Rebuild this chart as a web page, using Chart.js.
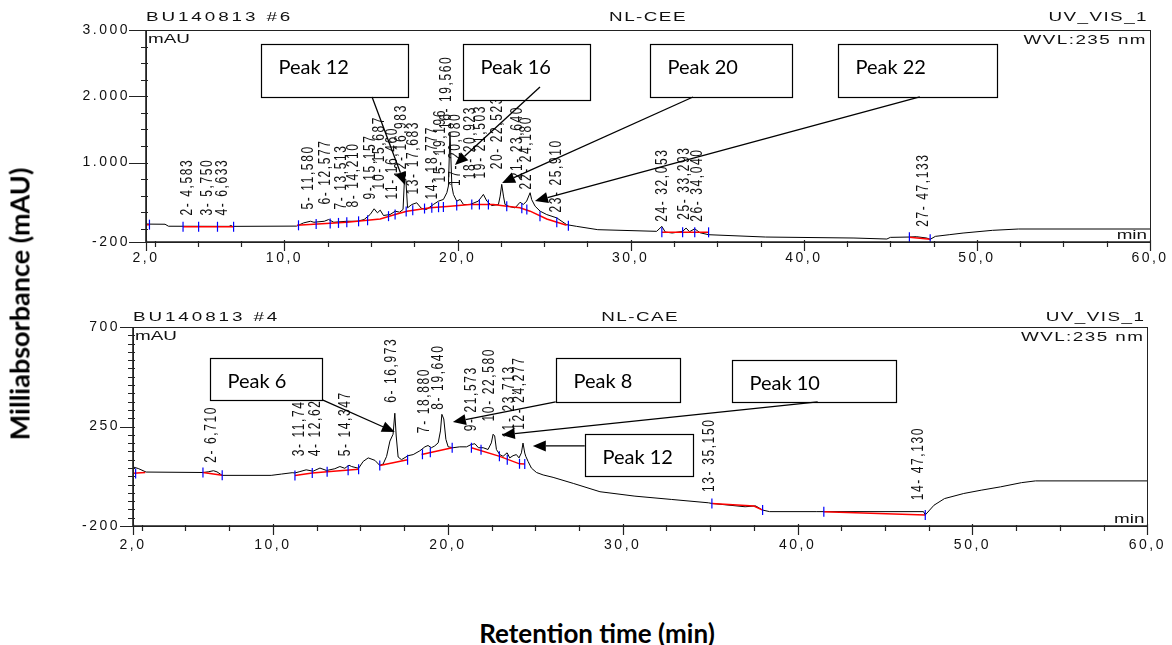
<!DOCTYPE html>
<html>
<head>
<meta charset="utf-8">
<title>UV_VIS_1 chromatograms NL-CEE / NL-CAE</title>
<script src="https://cdn.jsdelivr.net/npm/chart.js@4.4.1/dist/chart.umd.min.js"></script>
<style>
  body { margin: 0; background: #fff; }
  #wrap { position: relative; width: 1172px; height: 645px; overflow: hidden; }
  #wrap canvas { position: absolute; left: 0; }
  #topChart { top: 0; }
  #bottomChart { top: 290px; }
  .axis-title { position: absolute; font-family: Lato, 'Open Sans', sans-serif; font-weight: bold; color: #000; white-space: nowrap; }
  #yTitle { left: 19px; top: 304px; font-size: 27px; transform: translate(-50%, -50%) rotate(-90deg); }
  #xTitle { left: 597px; top: 633px; font-size: 26px; transform: translate(-50%, -50%); }
</style>
</head>
<body>
<div id="wrap">
  <canvas id="topChart" width="1172" height="290"></canvas>
  <canvas id="bottomChart" width="1172" height="280"></canvas>
  <div class="axis-title" id="yTitle">Milliabsorbance (mAU)</div>
  <div class="axis-title" id="xTitle">Retention time (min)</div>
</div>
<script>
// retention time axis (min), same for both runs
var xTickVals = [2, 10, 20, 30, 40, 50, 60];
var xTickText = ['2,0', '10,0', '20,0', '30,0', '40,0', '50,0', '60,0'];
var xMinor = [2.5, 5, 7.5, 12.5, 15, 17.5, 22.5, 25, 27.5, 32.5, 35, 37.5, 42.5, 45, 47.5, 52.5, 55, 57.5];

// ---- BU140813 #6  NL-CEE ----
var topYTickVals = [-200, 1000, 2000, 3000];
var topYTickText = ['-200', '1.000', '2.000', '3.000'];
var topYMinor = [0, 250, 500, 750, 1250, 1500, 1750, 2250, 2500, 2750];

var topTime = [
  2.0, 2.2, 3.1, 3.3, 6.8, 6.9, 7.0, 10.7, 11.1, 11.5,
  11.7, 12.3, 12.55, 12.85, 13.6, 14.2, 14.6, 14.95, 15.18, 15.37,
  15.53, 15.72, 16.1, 16.4, 16.65, 16.85, 16.93, 17.01, 17.11, 17.36,
  17.64, 17.9, 18.2, 18.6, 18.9, 19.18, 19.38, 19.47, 19.56, 19.67,
  19.76, 19.95, 20.15, 20.34, 20.72, 21.2, 21.49, 21.69, 21.97, 22.36,
  22.46, 22.55, 22.65, 22.74, 22.94, 23.32, 23.61, 23.8, 23.99, 24.19,
  24.28, 24.48, 24.77, 25.15, 25.73, 26.3, 26.88, 28.1, 31.5, 31.8,
  32.0, 32.4, 33.0, 33.2, 33.4, 33.7, 34.0, 34.5, 37.8, 42.9,
  44.8, 45.0, 46.1, 46.5, 47.1, 47.3, 47.6, 48.4, 49.2, 50.9,
  52.4, 60.0
];
var topMAU = [
  73, 70, 68, 38, 36, 50, 36, 40, 88, 113,
  98, 113, 139, 98, 113, 113, 139, 215, 301, 240,
  281, 200, 215, 265, 250, 291, 746, 746, 316, 366,
  392, 310, 290, 366, 417, 442, 544, 645, 1456, 645,
  518, 417, 442, 366, 366, 417, 518, 417, 350, 366,
  493, 670, 493, 366, 340, 315, 400, 366, 417, 544,
  440, 340, 265, 214, 164, 62, 36, -14, -39, 36,
  -50, -64, -40, 10, -45, 0, -60, -90, -125, -140,
  -155, -130, -125, -120, -140, -160, -115, -90, -65, -24,
  -4, -4
];
// integration baselines (null = break)
var topBaseTime = [2.0, 2.2, 2.2, 4.14, 7.06, 7.06, 10.72, 13.6, 15.53, 16.39, 17.07, 18.42, 19.57, 20.72, 22.07, 22.84, 23.6, 24.19, 25.15, 26.3, 26.3, 31.8, 34.5, 34.5, 46.1, 47.3];
var topBaseMAU = [60, 62, null, 30, 30, null, 52, 98, 148, 214, 265, 316, 341, 366, 366, 341, 316, 265, 148, 52, null, -54, -54, null, -130, -160];
// peak start / end marks
var topMarkTime = [2.2, 4.14, 5.04, 6.13, 7.06, 10.81, 11.83, 12.64, 13.12, 13.6, 14.28, 14.8, 16.01, 16.39, 17.03, 17.41, 18.09, 18.51, 18.9, 19.18, 19.95, 20.82, 21.26, 21.78, 22.84, 23.71, 24.0, 24.76, 25.73, 26.4, 31.8, 33.0, 33.7, 34.5, 46.1, 47.3];
var topMarkMAU = [62, 30, 30, 30, 30, 52, 70, 80, 88, 98, 112, 128, 190, 214, 262, 280, 305, 318, 325, 330, 350, 366, 366, 366, 341, 310, 290, 190, 100, 45, -54, -54, -54, -54, -130, -160];
// peak names
var topPeakText = ['2- 4,583', '3- 5,750', '4- 6,633', '5- 11,580', '6- 12,577', '7- 13,513', '8- 14,210', '9- 15,157', '10- 15,687', '11- 16,460', '12- 16,983', '13- 17,683', '14- 18,777', '15- 19,196', '16- 19,560', '17- 20,080', '18- 20,923', '19- 21,503', '20- 22,523', '21- 23,640', '22- 24,180', '23- 25,910', '24- 32,053', '25- 33,293', '26- 34,040', '27- 47,133'];
var topPeakTime = [4.583, 5.75, 6.633, 11.58, 12.577, 13.513, 14.21, 15.157, 15.687, 16.46, 16.983, 17.683, 18.777, 19.196, 19.56, 20.08, 20.923, 21.503, 22.523, 23.64, 24.18, 25.91, 32.053, 33.293, 34.04, 47.133];
var topPeakLabelAt = [199, 199, 199, 290, 366, 290, 320, 442, 594, 442, 774, 518, 442, 700, 1505, 644, 746, 760, 898, 746, 594, 245, 105, 135, 105, 30];

// ---- BU140813 #4  NL-CAE ----
var botYTickVals = [-200, 250, 700];
var botYTickText = ['-200', '250', '700'];

var botTime = [
  2.0, 2.3, 2.75, 6.0, 6.3, 6.6, 6.8, 7.1, 9.9, 10.5,
  11.1, 11.26, 11.54, 11.9, 12.3, 12.69, 13.07, 13.54, 13.83, 14.11,
  14.35, 14.5, 14.9, 15.16, 15.45, 15.83, 16.11, 16.3, 16.5, 16.69,
  16.87, 16.97, 17.05, 17.16, 17.35, 17.73, 18.02, 18.4, 18.69, 18.87,
  19.06, 19.25, 19.45, 19.58, 19.66, 19.77, 19.89, 20.02, 20.3, 20.68,
  21.07, 21.35, 21.55, 21.75, 22.02, 22.3, 22.49, 22.59, 22.68, 22.78,
  22.97, 23.16, 23.39, 23.54, 23.73, 23.92, 24.07, 24.21, 24.3, 24.4,
  24.46, 24.59, 24.78, 25.07, 25.45, 26.02, 27.2, 28.7, 30.7, 32.8,
  34.9, 35.1, 37.0, 37.6, 38.0, 38.4, 41.1, 47.2, 47.3, 47.8,
  48.4, 49.5, 50.5, 51.6, 52.8, 53.6, 60.0
];
var botMAU = [
  67, 60, 44, 42, 45, 50, 45, 29, 29, 35,
  41, 40, 46, 54, 48, 62, 51, 59, 69, 61,
  75, 69, 61, 92, 108, 97, 74, 80, 115, 184,
  215, 310, 207, 112, 100, 118, 123, 140, 158, 164,
  154, 162, 176, 230, 305, 284, 192, 158, 154, 158,
  158, 169, 172, 154, 154, 146, 176, 215, 207, 146,
  123, 115, 131, 108, 118, 123, 108, 131, 175, 130,
  115, 92, 62, 42, 31, 20, -8, -45, -65, -80,
  -95, -98, -113, -109, -128, -135, -135, -135, -150, -106,
  -76, -53, -38, -23, -4, 4, 4
];
var botBaseTime = [2.0, 2.7, 2.7, 6.0, 7.1, 7.1, 11.26, 12.25, 13.1, 14.9, 14.9, 16.11, 17.7, 17.7, 18.5, 20.25, 20.25, 21.35, 22.97, 24.1, 24.4, 24.4, 35.1, 37.5, 38.0, 38.0, 41.5, 47.3];
var botBaseMAU = [38, 42, null, 42, 30, null, 28, 40, 45, 57, null, 74, 100, null, 123, 154, null, 154, 115, 81, 80, null, -98, -110, -128, null, -135, -150];
var botMarkTime = [2.15, 6.0, 7.1, 11.26, 12.25, 13.1, 14.3, 14.9, 16.11, 17.7, 18.55, 19.0, 20.25, 21.35, 21.9, 22.95, 23.4, 24.1, 24.4, 35.1, 38.0, 41.5, 47.3];
var botMarkMAU = [38, 42, 30, 28, 40, 45, 52, 57, 74, 100, 125, 133, 154, 154, 145, 115, 100, 81, 80, -98, -128, -135, -150];
var botPeakText = ['2- 6,710', '3- 11,747', '4- 12,627', '5- 14,347', '6- 16,973', '7- 18,880', '8- 19,640', '9- 21,573', '10- 22,580', '11- 23,713', '12- 24,277', '13- 35,150', '14- 47,130'];
var botPeakTime = [6.71, 11.747, 12.627, 14.347, 16.973, 18.88, 19.64, 21.573, 22.58, 23.713, 24.277, 35.15, 47.13];
var botPeakLabelAt = [86, 115, 115, 115, 357, 220, 326, 228, 273, 199, 235, -46, -84];

// call-out boxes and arrows, placed in axis units
var topNotes = [
  { text: 'Peak 12', t0: 8.64, t1: 17.14, v0: 2790, v1: 1989, from: [15.06, 1989], to: [16.96, 660] },
  { text: 'Peak 16', t0: 20.31, t1: 27.65, v0: 2784, v1: 1943, from: [24.76, 2140], to: [19.85, 962] },
  { text: 'Peak 20', t0: 31.12, t1: 39.32, v0: 2790, v1: 1989, from: [33.6, 1989], to: [22.57, 691] },
  { text: 'Peak 22', t0: 41.98, t1: 51.16, v0: 2790, v1: 1989, from: [46.7, 1989], to: [24.47, 419] }
];
var botNotes = [
  { text: 'Peak 6', t0: 6.43, t1: 12.83, v0: 558, v1: 370, from: [12.83, 370], to: [16.97, 225] },
  { text: 'Peak 8', t0: 26.17, t1: 33.27, v0: 560, v1: 361, from: [26.17, 361], to: [20.29, 270] },
  { text: 'Peak 10', t0: 36.23, t1: 45.6, v0: 553, v1: 361, from: [41.15, 361], to: [23.09, 212] },
  { text: 'Peak 12', t0: 27.83, t1: 34.0, v0: 216, v1: 26, from: [27.83, 162], to: [24.86, 162] }
];

function pts(ts, vs) {
  return ts.map(function(t, i) { return { x: t, y: vs[i] }; });
}

function drawText(ctx, str, x, y, o) {
  ctx.save();
  ctx.translate(x, y);
  if (o.rotate) {
    ctx.rotate(-Math.PI / 2);
    ctx.scale(1, o.stretch || 1);
  } else {
    ctx.scale(o.stretch || 1, 1);
  }
  ctx.font = o.font;
  ctx.letterSpacing = (o.spacing || 0) + 'px';
  ctx.textAlign = o.align || 'left';
  ctx.textBaseline = o.baseline || 'alphabetic';
  ctx.fillStyle = o.color || '#111';
  ctx.fillText(str, 0, 0);
  ctx.restore();
}

function drawArrow(ctx, x1, y1, x2, y2) {
  var ang = Math.atan2(y2 - y1, x2 - x1), L = 13, W = 5.5;
  var bx = x2 - L * Math.cos(ang), by = y2 - L * Math.sin(ang);
  ctx.beginPath();
  ctx.moveTo(x1, y1);
  ctx.lineTo(bx, by);
  ctx.stroke();
  ctx.beginPath();
  ctx.moveTo(x2, y2);
  ctx.lineTo(bx + W * Math.sin(ang), by - W * Math.cos(ang));
  ctx.lineTo(bx - W * Math.sin(ang), by + W * Math.cos(ang));
  ctx.closePath();
  ctx.fill();
}

function chromPlugin(info) {
  return {
    id: 'chrom',
    beforeDraw: function(chart) {
      chart.ctx.letterSpacing = '2.5px';
    },
    afterDraw: function(chart) {
      var ctx = chart.ctx, a = chart.chartArea;
      var xs = chart.scales.x, ys = chart.scales.y;
      var head = '13px "Liberation Sans", Arial, sans-serif';
      ctx.save();
      ctx.letterSpacing = '0px';

      // frame
      ctx.strokeStyle = '#222';
      ctx.lineWidth = 1;
      ctx.strokeRect(Math.round(a.left) + 0.5, Math.round(a.top) + 0.5, Math.round(a.right - a.left), Math.round(a.bottom - a.top));
      ctx.lineWidth = 1.6;
      ctx.beginPath();
      ctx.moveTo(a.left, a.top);
      ctx.lineTo(a.left, a.bottom);
      ctx.lineTo(a.right, a.bottom);
      ctx.stroke();

      // tick marks
      ctx.lineWidth = 1.2;
      ctx.beginPath();
      info.yTickVals.forEach(function(v) {
        var y = Math.round(ys.getPixelForValue(v)) + 0.5;
        ctx.moveTo(a.left - info.majorLen, y); ctx.lineTo(a.left + 2, y);
      });
      info.yMinor.forEach(function(v) {
        var y = Math.round(ys.getPixelForValue(v)) + 0.5;
        ctx.moveTo(a.left - 5, y); ctx.lineTo(a.left + 2, y);
      });
      xTickVals.forEach(function(v) {
        var x = Math.round(xs.getPixelForValue(v)) + 0.5;
        ctx.moveTo(x, a.bottom - 2); ctx.lineTo(x, a.bottom + 9);
      });
      xMinor.forEach(function(v) {
        var x = Math.round(xs.getPixelForValue(v)) + 0.5;
        ctx.moveTo(x, a.bottom - 1); ctx.lineTo(x, a.bottom + 5);
      });
      ctx.stroke();

      // header and corner texts
      drawText(ctx, info.sample, a.left, a.top - info.headGap, { font: head, stretch: 1.45, spacing: 2 });
      drawText(ctx, info.program, (a.left + a.right) / 2, a.top - info.headGap, { font: head, stretch: 1.45, spacing: 1, align: 'center' });
      drawText(ctx, 'UV_VIS_1', a.right - 2, a.top - info.headGap, { font: head, stretch: 1.45, spacing: 1, align: 'right' });
      drawText(ctx, 'mAU', a.left + 2, a.top + 13, { font: head, stretch: 1.45 });
      drawText(ctx, 'WVL:235 nm', a.right - 3, a.top + 14, { font: head, stretch: 1.45, spacing: 1, align: 'right' });
      drawText(ctx, 'min', a.right - 3, a.bottom - 3, { font: head, stretch: 1.45, align: 'right' });

      // peak names, written upward from above each peak
      info.peakText.forEach(function(s, i) {
        var x = xs.getPixelForValue(info.peakTime[i]);
        var y = ys.getPixelForValue(info.peakAt[i]);
        drawText(ctx, s, x + 1, y, { font: '12px "Liberation Sans", Arial, sans-serif', rotate: true, stretch: 1.45, spacing: 1.6 });
      });

      // call-outs
      ctx.strokeStyle = '#000';
      ctx.fillStyle = '#000';
      info.notes.forEach(function(n) {
        var x0 = Math.round(xs.getPixelForValue(n.t0)) + 0.5, x1 = Math.round(xs.getPixelForValue(n.t1)) + 0.5;
        var y0 = Math.round(ys.getPixelForValue(n.v0)) + 0.5, y1 = Math.round(ys.getPixelForValue(n.v1)) + 0.5;
        ctx.fillStyle = '#fff';
        ctx.fillRect(x0, y0, x1 - x0, y1 - y0);
        ctx.lineWidth = 1.2;
        ctx.strokeRect(x0, y0, x1 - x0, y1 - y0);
        drawText(ctx, n.text, x0 + 17, y0 + 23, { font: '20px Lato, "Open Sans", sans-serif', baseline: 'middle', color: '#000' });
        ctx.fillStyle = '#000';
        ctx.lineWidth = 1.3;
        drawArrow(ctx, xs.getPixelForValue(n.from[0]), ys.getPixelForValue(n.from[1]),
                  xs.getPixelForValue(n.to[0]), ys.getPixelForValue(n.to[1]));
      });
      ctx.restore();
    }
  };
}

function makeChart(id, opt) {
  return new Chart(document.getElementById(id).getContext('2d'), {
    type: 'line',
    data: {
      datasets: [{
        label: 'Signal',
        data: pts(opt.time, opt.mau),
        borderColor: '#000',
        borderWidth: 1,
        pointRadius: 0,
        tension: 0,
        order: 2
      }, {
        label: 'Baseline',
        data: pts(opt.baseTime, opt.baseMAU),
        borderColor: '#ff0000',
        borderWidth: 1.5,
        pointRadius: 0,
        tension: 0,
        order: 1
      }, {
        label: 'Peak limits',
        data: pts(opt.markTime, opt.markMAU),
        showLine: false,
        pointStyle: 'line',
        rotation: 90,
        pointRadius: 5,
        borderColor: '#0000ff',
        borderWidth: 1.2,
        order: 0
      }]
    },
    options: {
      responsive: false,
      animation: false,
      events: [],
      layout: { padding: opt.padding },
      plugins: { legend: { display: false }, tooltip: { enabled: false } },
      scales: {
        x: {
          type: 'linear', min: 2, max: 60,
          grid: { display: false, drawTicks: false },
          border: { display: false },
          afterFit: function(s) { s.height = opt.xHeight; },
          afterBuildTicks: function(s) { s.ticks = xTickVals.map(function(v) { return { value: v }; }); },
          ticks: {
            autoSkip: false, maxRotation: 0, minRotation: 0, padding: opt.xPad, color: '#111',
            font: { family: 'Liberation Sans', size: 14 },
            callback: function(v) { var i = xTickVals.indexOf(v); return i < 0 ? '' : xTickText[i]; }
          }
        },
        y: {
          type: 'linear', min: opt.yTickVals[0], max: opt.yTickVals[opt.yTickVals.length - 1],
          grid: { display: false, drawTicks: false },
          border: { display: false },
          afterFit: function(s) { s.width = opt.yWidth; },
          afterBuildTicks: function(s) { s.ticks = opt.yTickVals.map(function(v) { return { value: v }; }); },
          ticks: {
            padding: opt.yPad, color: '#111',
            font: { family: 'Liberation Sans', size: 14 },
            callback: function(v) { var i = opt.yTickVals.indexOf(v); return i < 0 ? '' : opt.yTickText[i]; }
          }
        }
      }
    },
    plugins: [chromPlugin(opt)]
  });
}

var botYMinor = [];
for (var m = -200; m < 700; m += 37.5) {
  if (botYTickVals.indexOf(m) < 0) botYMinor.push(m);
}

makeChart('topChart', {
  time: topTime, mau: topMAU, baseTime: topBaseTime, baseMAU: topBaseMAU,
  markTime: topMarkTime, markMAU: topMarkMAU,
  peakText: topPeakText, peakTime: topPeakTime, peakAt: topPeakLabelAt,
  notes: topNotes, yTickVals: topYTickVals, yTickText: topYTickText, yMinor: topYMinor,
  sample: 'BU140813 #6', program: 'NL-CEE',
  padding: { left: 0, right: 22, top: 30, bottom: 0 },
  xHeight: 48, yWidth: 146, yPad: 16, xPad: 8, majorLen: 17, headGap: 9
});

makeChart('bottomChart', {
  time: botTime, mau: botMAU, baseTime: botBaseTime, baseMAU: botBaseMAU,
  markTime: botMarkTime, markMAU: botMarkMAU,
  peakText: botPeakText, peakTime: botPeakTime, peakAt: botPeakLabelAt,
  notes: botNotes, yTickVals: botYTickVals, yTickText: botYTickText, yMinor: botYMinor,
  sample: 'BU140813 #4', program: 'NL-CAE',
  padding: { left: 0, right: 24, top: 37, bottom: 0 },
  xHeight: 44, yWidth: 133, yPad: 13, xPad: 11, majorLen: 13, headGap: 6
});
</script>
</body>
</html>
